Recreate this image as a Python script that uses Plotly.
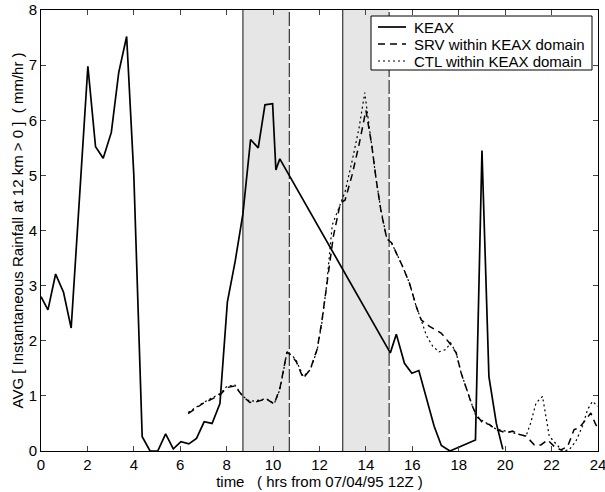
import plotly.graph_objects as go

# ---- data ----
keax_t = [0, 0.3, 0.63, 0.97, 1.3, 1.65, 2.02, 2.35, 2.68, 3.03, 3.35, 3.69, 4.0, 4.36,
          4.7, 5.03, 5.37, 5.7, 6.03, 6.37, 6.7, 7.03, 7.37, 7.71, 8.03, 8.37, 8.7, 9.03,
          9.36, 9.65, 9.98, 10.12, 10.29, 15.05, 15.31, 15.66, 15.98, 16.28, 16.6, 16.94,
          17.25, 17.62, 18.72, 19.0, 19.3, 19.62, 19.9]
keax_v = [2.8, 2.56, 3.21, 2.88, 2.23, 4.6, 6.98, 5.52, 5.31, 5.78, 6.87, 7.52, 5.0, 0.26,
          0.0, 0.0, 0.31, 0.04, 0.17, 0.13, 0.23, 0.53, 0.5, 0.86, 2.7, 3.45, 4.3, 5.65,
          5.5, 6.28, 6.3, 5.1, 5.3, 1.78, 2.12, 1.59, 1.41, 1.46, 0.99, 0.45,
          0.1, 0.0, 0.2, 5.45, 1.35, 0.5, 0.03]

srv_t = [6.34, 6.7, 7.0, 7.4, 7.75, 8.0, 8.35, 8.68, 9.0, 9.35, 9.7, 10.05, 10.3, 10.6,
         10.85, 11.0, 11.3, 11.6, 11.9, 12.1, 12.3, 12.6, 12.9, 13.1, 13.4, 13.7, 14.0,
         14.25, 14.45, 14.65, 14.9, 15.1, 15.31, 15.59, 15.88, 16.17, 16.38, 16.74, 17.24,
         17.6, 17.89, 18.1, 18.3, 18.59, 18.75, 19.03, 19.32, 19.6, 20.04, 20.32, 20.61,
         20.9, 21.26, 21.54, 21.83, 22.12, 22.4, 22.69, 22.97, 23.19, 23.48, 23.69, 23.87, 24.0]
srv_v = [0.68, 0.78, 0.87, 0.95, 1.03, 1.15, 1.18, 1.0, 0.88, 0.9, 0.95, 0.85, 1.15, 1.8,
         1.7, 1.62, 1.32, 1.48, 1.85, 2.35, 3.0, 3.9, 4.5, 4.55, 5.0, 5.55, 6.18,
         5.55, 4.9, 4.35, 3.85, 3.78, 3.59, 3.34, 3.04, 2.62, 2.38, 2.26, 2.14,
         1.96, 1.78, 1.42, 1.17, 0.81, 0.66, 0.51, 0.48, 0.39, 0.33, 0.36, 0.3,
         0.27, 0.11, 0.11, 0.2, 0.08, 0.02, 0.08, 0.39, 0.42, 0.57, 0.69, 0.51, 0.4]

ctl_t = [6.34, 6.7, 7.0, 7.4, 7.75, 8.0, 8.35, 8.68, 9.0, 9.35, 9.7, 10.05, 10.3, 10.6,
         10.85, 11.0, 11.3, 11.6, 11.9, 12.1, 12.3, 12.55, 12.9, 13.1, 13.4, 13.7, 13.95,
         14.25, 14.45, 14.65, 14.9, 15.1, 15.31, 15.59, 15.88, 16.17, 16.38, 16.6, 16.88,
         17.15, 17.44, 17.65, 17.89, 18.1, 18.3, 18.59, 18.75, 19.03, 19.32, 19.6, 20.04,
         20.32, 20.61, 20.9, 21.1, 21.33, 21.61, 21.72, 21.9, 22.15, 22.47, 22.75, 23.04,
         23.33, 23.55, 23.76, 24.0]
ctl_v = [0.7, 0.8, 0.88, 0.97, 1.05, 1.17, 1.2, 1.0, 0.9, 0.92, 0.95, 0.86, 1.12, 1.8,
         1.72, 1.64, 1.35, 1.47, 1.83, 2.32, 2.98, 4.1, 4.48, 4.7, 5.25, 5.85, 6.5,
         5.55, 4.9, 4.37, 3.85, 3.78, 3.59, 3.34, 3.04, 2.62, 2.38, 2.1, 1.9,
         1.8, 1.84, 1.96, 1.78, 1.42, 1.17, 0.81, 0.62, 0.55, 0.48, 0.4, 0.36,
         0.33, 0.3, 0.27, 0.51, 0.87, 0.99, 0.69, 0.27, 0.15, 0.0, 0.02, 0.17,
         0.45, 0.75, 0.9, 0.81]

series_names = ["KEAX", "SRV within KEAX domain", "CTL within KEAX domain"]
shaded_periods = [(8.7, 10.7), (13.0, 15.0)]
x_ticks = list(range(0, 25, 2))
y_ticks = list(range(0, 9))

FONT = "Liberation Sans, Arial, Helvetica, sans-serif"
W, H = 605, 492
ML, MR, MT, MB = 41, 7, 10, 41
PW, PH = W - ML - MR, H - MT - MB

def px(xp):  # pixel x -> paper
    return (xp - ML) / PW

def py(yp):  # pixel y -> paper
    return (H - MB - yp) / PH

styles = [dict(color="black", width=1.7),
          dict(color="black", width=1.5, dash="7px,5px"),
          dict(color="black", width=1.2, dash="2px,3px")]

fig = go.Figure()
for name, t, v, st in zip(series_names, [keax_t, srv_t, ctl_t],
                          [keax_v, srv_v, ctl_v], styles):
    fig.add_trace(go.Scatter(x=t, y=v, mode="lines", name=name, line=st,
                             showlegend=False))

for a, b in shaded_periods:
    fig.add_shape(type="rect", x0=a, x1=b, y0=0, y1=8, xref="x", yref="y",
                  fillcolor="#e6e6e6", line=dict(width=0), layer="below")
    fig.add_shape(type="line", x0=a, x1=a, y0=0, y1=8, xref="x", yref="y",
                  line=dict(color="#333333", width=1.2), layer="below")
    fig.add_shape(type="line", x0=b, x1=b, y0=0, y1=8, xref="x", yref="y",
                  line=dict(color="#333333", width=1.2, dash="14px,3px"), layer="below")

# manual legend box
fig.add_shape(type="rect", xref="paper", yref="paper",
              x0=px(371), x1=px(592), y0=py(70), y1=py(16),
              fillcolor="white", line=dict(color="black", width=1))
row_y = [27, 44, 61]
for name, st, ry in zip(series_names, styles, row_y):
    fig.add_shape(type="line", xref="paper", yref="paper",
                  x0=px(378), x1=px(406), y0=py(ry), y1=py(ry), line=st)
    fig.add_annotation(xref="paper", yref="paper", x=px(412), y=py(ry),
                       xanchor="left", yanchor="middle", text=name, showarrow=False,
                       font=dict(size=15, family=FONT, color="black"))

# y-axis title
fig.add_annotation(xref="paper", yref="paper", x=px(17), y=0.5, textangle=-90,
                   text="AVG [ Instantaneous Rainfall at 12 km > 0 ]  ( mm/hr )",
                   showarrow=False, xanchor="center", yanchor="middle",
                   font=dict(size=15, family=FONT, color="black"))

fig.update_layout(
    width=W, height=H,
    margin=dict(l=ML, r=MR, t=MT, b=MB, autoexpand=False),
    paper_bgcolor="white", plot_bgcolor="white",
    font=dict(family=FONT, size=15, color="black"),
    showlegend=False,
    xaxis=dict(range=[0, 24], tickvals=x_ticks, ticks="inside", ticklen=5,
               showline=True, linecolor="black", linewidth=1, mirror="ticks",
               showgrid=False, zeroline=False, tickfont=dict(size=15),
               ticklabeloverflow="allow", automargin=False,
               title=dict(text="time   ( hrs from 07/04/95 12Z )", font=dict(size=15),
                          standoff=1)),
    yaxis=dict(range=[0, 8], tickvals=y_ticks, ticks="inside", ticklen=5,
               showline=True, linecolor="black", linewidth=1, mirror="ticks",
               showgrid=False, zeroline=False, tickfont=dict(size=15),
               ticklabeloverflow="allow", automargin=False),
)

fig.write_html("out.html")
